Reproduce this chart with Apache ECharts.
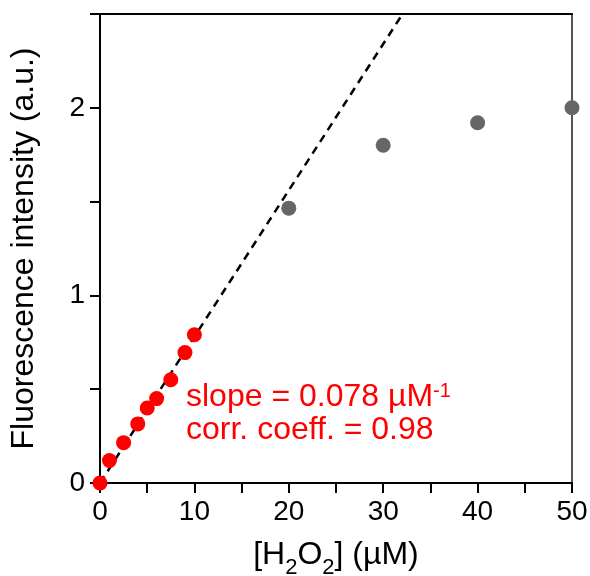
<!DOCTYPE html>
<html>
<head>
<meta charset="utf-8">
<title>H2O2 fluorescence calibration</title>
<script src="https://cdn.jsdelivr.net/npm/echarts@6/dist/echarts.min.js"></script>
<style>
  html, body { margin: 0; padding: 0; background: #fff; }
  #chart { width: 590px; height: 576px; }
</style>
</head>
<body>
<div id="chart"></div>
<script>
// linear range (red) and saturated range (gray)
var linearX = [0, 1, 2.5, 4, 5, 6, 7.5, 9, 10];
var linearY = [0, 0.12, 0.215, 0.315, 0.40, 0.45, 0.55, 0.695, 0.79];
var plateauX = [20, 30, 40, 50];
var plateauY = [1.465, 1.80, 1.92, 2.0];
// fitted line, slope 0.078 per uM
var fitX = [0, 32.05];
var fitY = [0, 2.5];
// labelled ticks
var xTickLabels = [0, 10, 20, 30, 40, 50];
var yTickLabels = [0, 1, 2];

var FONT = 'Liberation Sans';

function pairs(xs, ys) {
  return xs.map(function (x, i) { return [x, ys[i]]; });
}

var chart = echarts.init(document.getElementById('chart'));

var option = {
  animation: false,
  backgroundColor: '#fff',
  grid: { left: 100, right: 18, top: 14, bottom: 93, outerBoundsMode: 'none', containLabel: false },
  xAxis: [
    {
      type: 'value',
      min: 0, max: 50, interval: 5,
      name: '[H{sub|2}O{sub|2}] (µM)',
      nameLocation: 'middle',
      nameGap: 48,
      nameTextStyle: {
        fontFamily: FONT, fontSize: 32, color: '#000', lineHeight: 32,
        rich: { sub: { fontFamily: FONT, fontSize: 22, color: '#000', lineHeight: 22, padding: [26, 0, 0, 0] } }
      },
      axisLine: { show: true, onZero: false, lineStyle: { color: '#000', width: 2 } },
      axisTick: { show: true, inside: false, length: 10, lineStyle: { color: '#000', width: 2 } },
      axisLabel: {
        interval: 0, margin: 15, fontFamily: FONT, fontSize: 28, color: '#000',
        formatter: function (v) { return xTickLabels.indexOf(v) >= 0 ? String(v) : ''; }
      },
      splitLine: { show: false }
    },
    {
      type: 'value', position: 'top', min: 0, max: 50,
      axisLine: { show: true, onZero: false, lineStyle: { color: '#000', width: 2 } },
      axisTick: { show: false }, axisLabel: { show: false }, splitLine: { show: false }
    }
  ],
  yAxis: [
    {
      type: 'value',
      min: 0, max: 2.5, interval: 0.5,
      name: 'Fluorescence intensity (a.u.)',
      nameLocation: 'middle',
      nameGap: 60,
      nameTextStyle: { fontFamily: FONT, fontSize: 32, color: '#000' },
      axisLine: { show: true, onZero: false, lineStyle: { color: '#000', width: 2 } },
      axisTick: { show: true, inside: false, length: 10, lineStyle: { color: '#000', width: 2 } },
      axisLabel: {
        interval: 0, margin: 15, fontFamily: FONT, fontSize: 28, color: '#000',
        formatter: function (v) { return yTickLabels.indexOf(v) >= 0 ? String(v) : ''; }
      },
      splitLine: { show: false }
    },
    {
      type: 'value', position: 'right', min: 0, max: 2.5,
      axisLine: { show: true, onZero: false, lineStyle: { color: '#555', width: 2 } },
      axisTick: { show: false }, axisLabel: { show: false }, splitLine: { show: false }
    }
  ],
  series: [
    {
      name: 'fit',
      type: 'line',
      data: pairs(fitX, fitY),
      symbol: 'none',
      z: 1,
      lineStyle: { color: '#000', width: 2.5, type: [8, 6] }
    },
    {
      name: 'linear',
      type: 'scatter',
      data: pairs(linearX, linearY),
      symbolSize: 15,
      clip: false,
      z: 3,
      itemStyle: { color: '#ff0000', opacity: 1 }
    },
    {
      name: 'plateau',
      type: 'scatter',
      data: pairs(plateauX, plateauY),
      symbolSize: 15,
      clip: false,
      z: 3,
      itemStyle: { color: '#666666', opacity: 1 }
    }
  ],
  graphic: [
    {
      type: 'text',
      left: 186,
      top: 381,
      z: 10,
      style: {
        text: 'slope = 0.078 µM{sup|-1}\ncorr. coeff. = 0.98',
        fill: '#ff0000',
        fontFamily: FONT,
        fontSize: 32,
        lineHeight: 33,
        rich: {
          sup: { fill: '#ff0000', fontFamily: FONT, fontSize: 20, lineHeight: 22, verticalAlign: 'top' }
        }
      }
    }
  ]
};

chart.setOption(option);
</script>
</body>
</html>
